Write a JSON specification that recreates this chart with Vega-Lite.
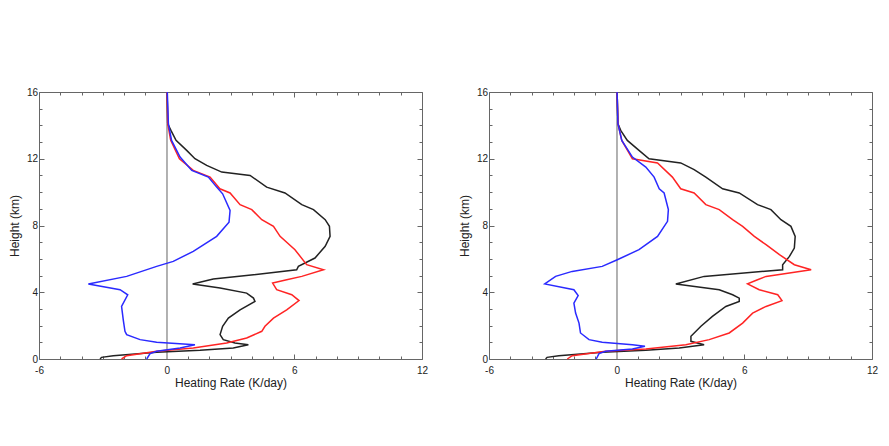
{
  "$schema": "https://vega.github.io/schema/vega-lite/v6.json",
  "background": "white",
  "padding": {"left": 8, "top": 86, "right": 5, "bottom": 5},
  "spacing": 29,
  "config": {
    "font": "Liberation Sans",
    "view": {"stroke": "#666", "strokeWidth": 1},
    "axis": {"domain": false, "grid": false, "labelFlush": false, "tickColor": "#666", "labelColor": "#222", "titleColor": "#222", "labelFontSize": 10, "titleFontSize": 12, "titleFontWeight": "normal", "labelFont": "Liberation Sans", "titleFont": "Liberation Sans"}
  },
  "datasets": {
    "left": [
      {"series": "black", "h": 16, "v": 0.02}, {"series": "black", "h": 14.1, "v": 0.05}, {"series": "black", "h": 13.7, "v": 0.2}, {"series": "black", "h": 13.1, "v": 0.44}, {"series": "black", "h": 12.5, "v": 0.94}, {"series": "black", "h": 12.0, "v": 1.33}, {"series": "black", "h": 11.6, "v": 1.88}, {"series": "black", "h": 11.2, "v": 2.59}, {"series": "black", "h": 11.0, "v": 3.92}, {"series": "black", "h": 10.3, "v": 4.7}, {"series": "black", "h": 9.95, "v": 5.56}, {"series": "black", "h": 9.25, "v": 6.35}, {"series": "black", "h": 8.95, "v": 6.9}, {"series": "black", "h": 8.35, "v": 7.45}, {"series": "black", "h": 7.95, "v": 7.65}, {"series": "black", "h": 7.35, "v": 7.68}, {"series": "black", "h": 6.75, "v": 7.45}, {"series": "black", "h": 6.05, "v": 6.97}, {"series": "black", "h": 5.55, "v": 6.19}, {"series": "black", "h": 5.35, "v": 6.11}, {"series": "black", "h": 5.05, "v": 4.08}, {"series": "black", "h": 4.8, "v": 2.19}, {"series": "black", "h": 4.5, "v": 1.22}, {"series": "black", "h": 4.25, "v": 2.51}, {"series": "black", "h": 3.95, "v": 3.76}, {"series": "black", "h": 3.65, "v": 4.08}, {"series": "black", "h": 3.45, "v": 4.15}, {"series": "black", "h": 2.95, "v": 3.45}, {"series": "black", "h": 2.45, "v": 2.9}, {"series": "black", "h": 1.96, "v": 2.63}, {"series": "black", "h": 1.46, "v": 2.51}, {"series": "black", "h": 1.16, "v": 2.66}, {"series": "black", "h": 0.96, "v": 3.21}, {"series": "black", "h": 0.86, "v": 3.84}, {"series": "black", "h": 0.66, "v": 3.13}, {"series": "black", "h": 0.52, "v": 1.57}, {"series": "black", "h": 0.4, "v": -0.47}, {"series": "black", "h": 0.2, "v": -2.51}, {"series": "black", "h": 0.1, "v": -3.06}, {"series": "black", "h": 0, "v": -3.13},
      {"series": "red", "h": 16, "v": 0.02}, {"series": "red", "h": 14.1, "v": 0.05}, {"series": "red", "h": 13.1, "v": 0.19}, {"series": "red", "h": 12.0, "v": 0.6}, {"series": "red", "h": 11.3, "v": 1.25}, {"series": "red", "h": 10.9, "v": 2.04}, {"series": "red", "h": 10.2, "v": 2.5}, {"series": "red", "h": 9.95, "v": 2.98}, {"series": "red", "h": 9.25, "v": 3.45}, {"series": "red", "h": 8.95, "v": 4.0}, {"series": "red", "h": 8.35, "v": 4.47}, {"series": "red", "h": 7.95, "v": 5.02}, {"series": "red", "h": 7.35, "v": 5.33}, {"series": "red", "h": 6.55, "v": 6.03}, {"series": "red", "h": 5.65, "v": 6.58}, {"series": "red", "h": 5.35, "v": 7.37}, {"series": "red", "h": 4.95, "v": 6.35}, {"series": "red", "h": 4.75, "v": 5.64}, {"series": "red", "h": 4.55, "v": 4.98}, {"series": "red", "h": 4.15, "v": 5.17}, {"series": "red", "h": 3.85, "v": 5.88}, {"series": "red", "h": 3.5, "v": 6.22}, {"series": "red", "h": 2.95, "v": 5.64}, {"series": "red", "h": 2.45, "v": 5.02}, {"series": "red", "h": 1.96, "v": 4.62}, {"series": "red", "h": 1.66, "v": 4.47}, {"series": "red", "h": 1.26, "v": 3.76}, {"series": "red", "h": 0.96, "v": 2.82}, {"series": "red", "h": 0.66, "v": 1.25}, {"series": "red", "h": 0.46, "v": -0.47}, {"series": "red", "h": 0.2, "v": -1.88}, {"series": "red", "h": 0, "v": -2.12},
      {"series": "blue", "h": 16, "v": 0.03}, {"series": "blue", "h": 14.1, "v": 0.08}, {"series": "blue", "h": 13.1, "v": 0.23}, {"series": "blue", "h": 12.1, "v": 0.63}, {"series": "blue", "h": 11.3, "v": 1.18}, {"series": "blue", "h": 10.9, "v": 1.96}, {"series": "blue", "h": 10.3, "v": 2.35}, {"series": "blue", "h": 9.9, "v": 2.63}, {"series": "blue", "h": 8.9, "v": 2.98}, {"series": "blue", "h": 8.2, "v": 2.93}, {"series": "blue", "h": 7.35, "v": 2.35}, {"series": "blue", "h": 6.45, "v": 1.25}, {"series": "blue", "h": 5.85, "v": 0.31}, {"series": "blue", "h": 5.55, "v": -0.47}, {"series": "blue", "h": 4.95, "v": -1.88}, {"series": "blue", "h": 4.5, "v": -3.68}, {"series": "blue", "h": 4.15, "v": -2.19}, {"series": "blue", "h": 3.85, "v": -1.83}, {"series": "blue", "h": 3.15, "v": -2.12}, {"series": "blue", "h": 2.35, "v": -2.04}, {"series": "blue", "h": 1.66, "v": -1.96}, {"series": "blue", "h": 1.46, "v": -1.88}, {"series": "blue", "h": 1.16, "v": -1.25}, {"series": "blue", "h": 1.0, "v": -0.47}, {"series": "blue", "h": 0.86, "v": 1.33}, {"series": "blue", "h": 0.66, "v": 0.63}, {"series": "blue", "h": 0.46, "v": -0.47}, {"series": "blue", "h": 0.32, "v": -0.78}, {"series": "blue", "h": 0, "v": -0.94}
    ],
    "right": [
      {"series": "black", "h": 16, "v": 0.02}, {"series": "black", "h": 14.1, "v": 0.06}, {"series": "black", "h": 13.7, "v": 0.19}, {"series": "black", "h": 13.1, "v": 0.5}, {"series": "black", "h": 12.5, "v": 1.05}, {"series": "black", "h": 12.0, "v": 1.52}, {"series": "black", "h": 11.75, "v": 3.01}, {"series": "black", "h": 11.35, "v": 3.64}, {"series": "black", "h": 10.9, "v": 4.19}, {"series": "black", "h": 10.2, "v": 4.98}, {"series": "black", "h": 9.95, "v": 5.76}, {"series": "black", "h": 9.25, "v": 6.62}, {"series": "black", "h": 8.95, "v": 7.25}, {"series": "black", "h": 8.35, "v": 7.72}, {"series": "black", "h": 7.95, "v": 8.19}, {"series": "black", "h": 7.35, "v": 8.39}, {"series": "black", "h": 6.65, "v": 8.35}, {"series": "black", "h": 6.15, "v": 8.12}, {"series": "black", "h": 5.65, "v": 7.8}, {"series": "black", "h": 5.35, "v": 7.8}, {"series": "black", "h": 4.95, "v": 4.11}, {"series": "black", "h": 4.5, "v": 2.78}, {"series": "black", "h": 4.15, "v": 4.82}, {"series": "black", "h": 3.85, "v": 5.45}, {"series": "black", "h": 3.65, "v": 5.76}, {"series": "black", "h": 3.45, "v": 5.76}, {"series": "black", "h": 3.15, "v": 5.13}, {"series": "black", "h": 2.55, "v": 4.5}, {"series": "black", "h": 1.96, "v": 3.96}, {"series": "black", "h": 1.36, "v": 3.49}, {"series": "black", "h": 1.06, "v": 3.49}, {"series": "black", "h": 0.86, "v": 4.11}, {"series": "black", "h": 0.66, "v": 2.94}, {"series": "black", "h": 0.52, "v": 1.37}, {"series": "black", "h": 0.4, "v": -0.68}, {"series": "black", "h": 0.2, "v": -2.72}, {"series": "black", "h": 0.1, "v": -3.27}, {"series": "black", "h": 0, "v": -3.34},
      {"series": "red", "h": 16, "v": 0.02}, {"series": "red", "h": 14.1, "v": 0.06}, {"series": "red", "h": 13.1, "v": 0.24}, {"series": "red", "h": 12.0, "v": 0.74}, {"series": "red", "h": 11.75, "v": 1.92}, {"series": "red", "h": 10.9, "v": 2.62}, {"series": "red", "h": 10.2, "v": 3.01}, {"series": "red", "h": 9.95, "v": 3.64}, {"series": "red", "h": 9.25, "v": 4.19}, {"series": "red", "h": 8.95, "v": 4.82}, {"series": "red", "h": 8.35, "v": 5.45}, {"series": "red", "h": 7.95, "v": 5.92}, {"series": "red", "h": 7.35, "v": 6.47}, {"series": "red", "h": 6.85, "v": 7.02}, {"series": "red", "h": 6.25, "v": 7.65}, {"series": "red", "h": 5.65, "v": 8.35}, {"series": "red", "h": 5.35, "v": 9.14}, {"series": "red", "h": 4.95, "v": 7.02}, {"series": "red", "h": 4.75, "v": 6.62}, {"series": "red", "h": 4.5, "v": 6.15}, {"series": "red", "h": 4.15, "v": 6.7}, {"series": "red", "h": 3.85, "v": 7.57}, {"series": "red", "h": 3.5, "v": 7.77}, {"series": "red", "h": 3.15, "v": 7.02}, {"series": "red", "h": 2.75, "v": 6.39}, {"series": "red", "h": 2.15, "v": 5.92}, {"series": "red", "h": 1.56, "v": 5.29}, {"series": "red", "h": 1.16, "v": 4.35}, {"series": "red", "h": 0.86, "v": 3.25}, {"series": "red", "h": 0.6, "v": 1.37}, {"series": "red", "h": 0.46, "v": -0.52}, {"series": "red", "h": 0.2, "v": -2.09}, {"series": "red", "h": 0, "v": -2.32},
      {"series": "blue", "h": 16, "v": 0.02}, {"series": "blue", "h": 14.1, "v": 0.06}, {"series": "blue", "h": 13.1, "v": 0.24}, {"series": "blue", "h": 12.1, "v": 0.74}, {"series": "blue", "h": 11.5, "v": 1.37}, {"series": "blue", "h": 10.9, "v": 1.76}, {"series": "blue", "h": 10.2, "v": 2.0}, {"series": "blue", "h": 9.95, "v": 2.23}, {"series": "blue", "h": 8.95, "v": 2.43}, {"series": "blue", "h": 8.25, "v": 2.39}, {"series": "blue", "h": 7.35, "v": 1.92}, {"series": "blue", "h": 6.55, "v": 1.05}, {"series": "blue", "h": 5.95, "v": 0.03}, {"series": "blue", "h": 5.55, "v": -0.68}, {"series": "blue", "h": 5.25, "v": -2.09}, {"series": "blue", "h": 4.95, "v": -2.87}, {"series": "blue", "h": 4.5, "v": -3.38}, {"series": "blue", "h": 4.15, "v": -2.01}, {"series": "blue", "h": 3.8, "v": -1.81}, {"series": "blue", "h": 3.35, "v": -2.01}, {"series": "blue", "h": 2.75, "v": -1.93}, {"series": "blue", "h": 2.15, "v": -1.77}, {"series": "blue", "h": 1.56, "v": -1.7}, {"series": "blue", "h": 1.16, "v": -1.3}, {"series": "blue", "h": 1.0, "v": -0.68}, {"series": "blue", "h": 0.86, "v": 0.74}, {"series": "blue", "h": 0.76, "v": 1.33}, {"series": "blue", "h": 0.6, "v": 0.74}, {"series": "blue", "h": 0.46, "v": -0.52}, {"series": "blue", "h": 0.32, "v": -0.83}, {"series": "blue", "h": 0, "v": -0.96}
    ]
  },
  "hconcat": [
    {
      "width": 383, "height": 267,
      "data": {"name": "left"},
      "resolve": {"axis": {"x": "independent", "y": "independent"}},
      "layer": [
        {
          "mark": {"type": "rule", "color": "#b0b0b0", "strokeWidth": 1},
          "encoding": {
            "x": {"datum": 0, "type": "quantitative", "scale": {"domain": [-6, 12], "nice": false, "zero": false},
              "axis": {"orient": "bottom", "values": [-6,-5,-4,-3,-2,-1,0,1,2,3,4,5,6,7,8,9,10,11,12], "labelExpr": "datum.value % 6 === 0 ? toString(datum.value) : ''", "tickSize": {"condition": {"test": "datum.value % 6 === 0", "value": -5}, "value": -3}, "labelPadding": 11, "title": "Heating Rate (K/day)", "titlePadding": 2}},
            "y": {"datum": 0, "type": "quantitative", "scale": {"domain": [0, 16], "nice": false},
              "axis": {"orient": "left", "values": [0,1,2,3,4,5,6,7,8,9,10,11,12,13,14,15,16], "labelExpr": "datum.value % 4 === 0 ? toString(datum.value) : ''", "tickSize": {"condition": {"test": "datum.value % 4 === 0", "value": -5}, "value": -3}, "labelPadding": 6.5, "title": "Height (km)", "titlePadding": 4.5}},
            "y2": {"datum": 16}
          }
        },
        {
          "mark": {"type": "line", "strokeWidth": 1.5},
          "encoding": {
            "x": {"field": "v", "type": "quantitative",
              "axis": {"orient": "top", "values": [-6,-5,-4,-3,-2,-1,0,1,2,3,4,5,6,7,8,9,10,11,12], "labels": false, "title": null, "tickSize": {"condition": {"test": "datum.value % 6 === 0", "value": -5}, "value": -3}}},
            "y": {"field": "h", "type": "quantitative",
              "axis": {"orient": "right", "values": [0,1,2,3,4,5,6,7,8,9,10,11,12,13,14,15,16], "labels": false, "title": null, "tickSize": {"condition": {"test": "datum.value % 4 === 0", "value": -5}, "value": -3}}},
            "color": {"field": "series", "type": "nominal", "scale": {"domain": ["black", "red", "blue"], "range": ["#222222", "#ff2424", "#2a2aff"]}, "legend": null},
            "order": {"field": "h", "sort": "descending"}
          }
        }
      ]
    },
    {
      "width": 383, "height": 267,
      "data": {"name": "right"},
      "resolve": {"axis": {"x": "independent", "y": "independent"}},
      "layer": [
        {
          "mark": {"type": "rule", "color": "#b0b0b0", "strokeWidth": 1},
          "encoding": {
            "x": {"datum": 0, "type": "quantitative", "scale": {"domain": [-6, 12], "nice": false, "zero": false},
              "axis": {"orient": "bottom", "values": [-6,-5,-4,-3,-2,-1,0,1,2,3,4,5,6,7,8,9,10,11,12], "labelExpr": "datum.value % 6 === 0 ? toString(datum.value) : ''", "tickSize": {"condition": {"test": "datum.value % 6 === 0", "value": -5}, "value": -3}, "labelPadding": 11, "title": "Heating Rate (K/day)", "titlePadding": 2}},
            "y": {"datum": 0, "type": "quantitative", "scale": {"domain": [0, 16], "nice": false},
              "axis": {"orient": "left", "values": [0,1,2,3,4,5,6,7,8,9,10,11,12,13,14,15,16], "labelExpr": "datum.value % 4 === 0 ? toString(datum.value) : ''", "tickSize": {"condition": {"test": "datum.value % 4 === 0", "value": -5}, "value": -3}, "labelPadding": 6.5, "title": "Height (km)", "titlePadding": 4.5}},
            "y2": {"datum": 16}
          }
        },
        {
          "mark": {"type": "line", "strokeWidth": 1.5},
          "encoding": {
            "x": {"field": "v", "type": "quantitative",
              "axis": {"orient": "top", "values": [-6,-5,-4,-3,-2,-1,0,1,2,3,4,5,6,7,8,9,10,11,12], "labels": false, "title": null, "tickSize": {"condition": {"test": "datum.value % 6 === 0", "value": -5}, "value": -3}}},
            "y": {"field": "h", "type": "quantitative",
              "axis": {"orient": "right", "values": [0,1,2,3,4,5,6,7,8,9,10,11,12,13,14,15,16], "labels": false, "title": null, "tickSize": {"condition": {"test": "datum.value % 4 === 0", "value": -5}, "value": -3}}},
            "color": {"field": "series", "type": "nominal", "scale": {"domain": ["black", "red", "blue"], "range": ["#222222", "#ff2424", "#2a2aff"]}, "legend": null},
            "order": {"field": "h", "sort": "descending"}
          }
        }
      ]
    }
  ]
}
